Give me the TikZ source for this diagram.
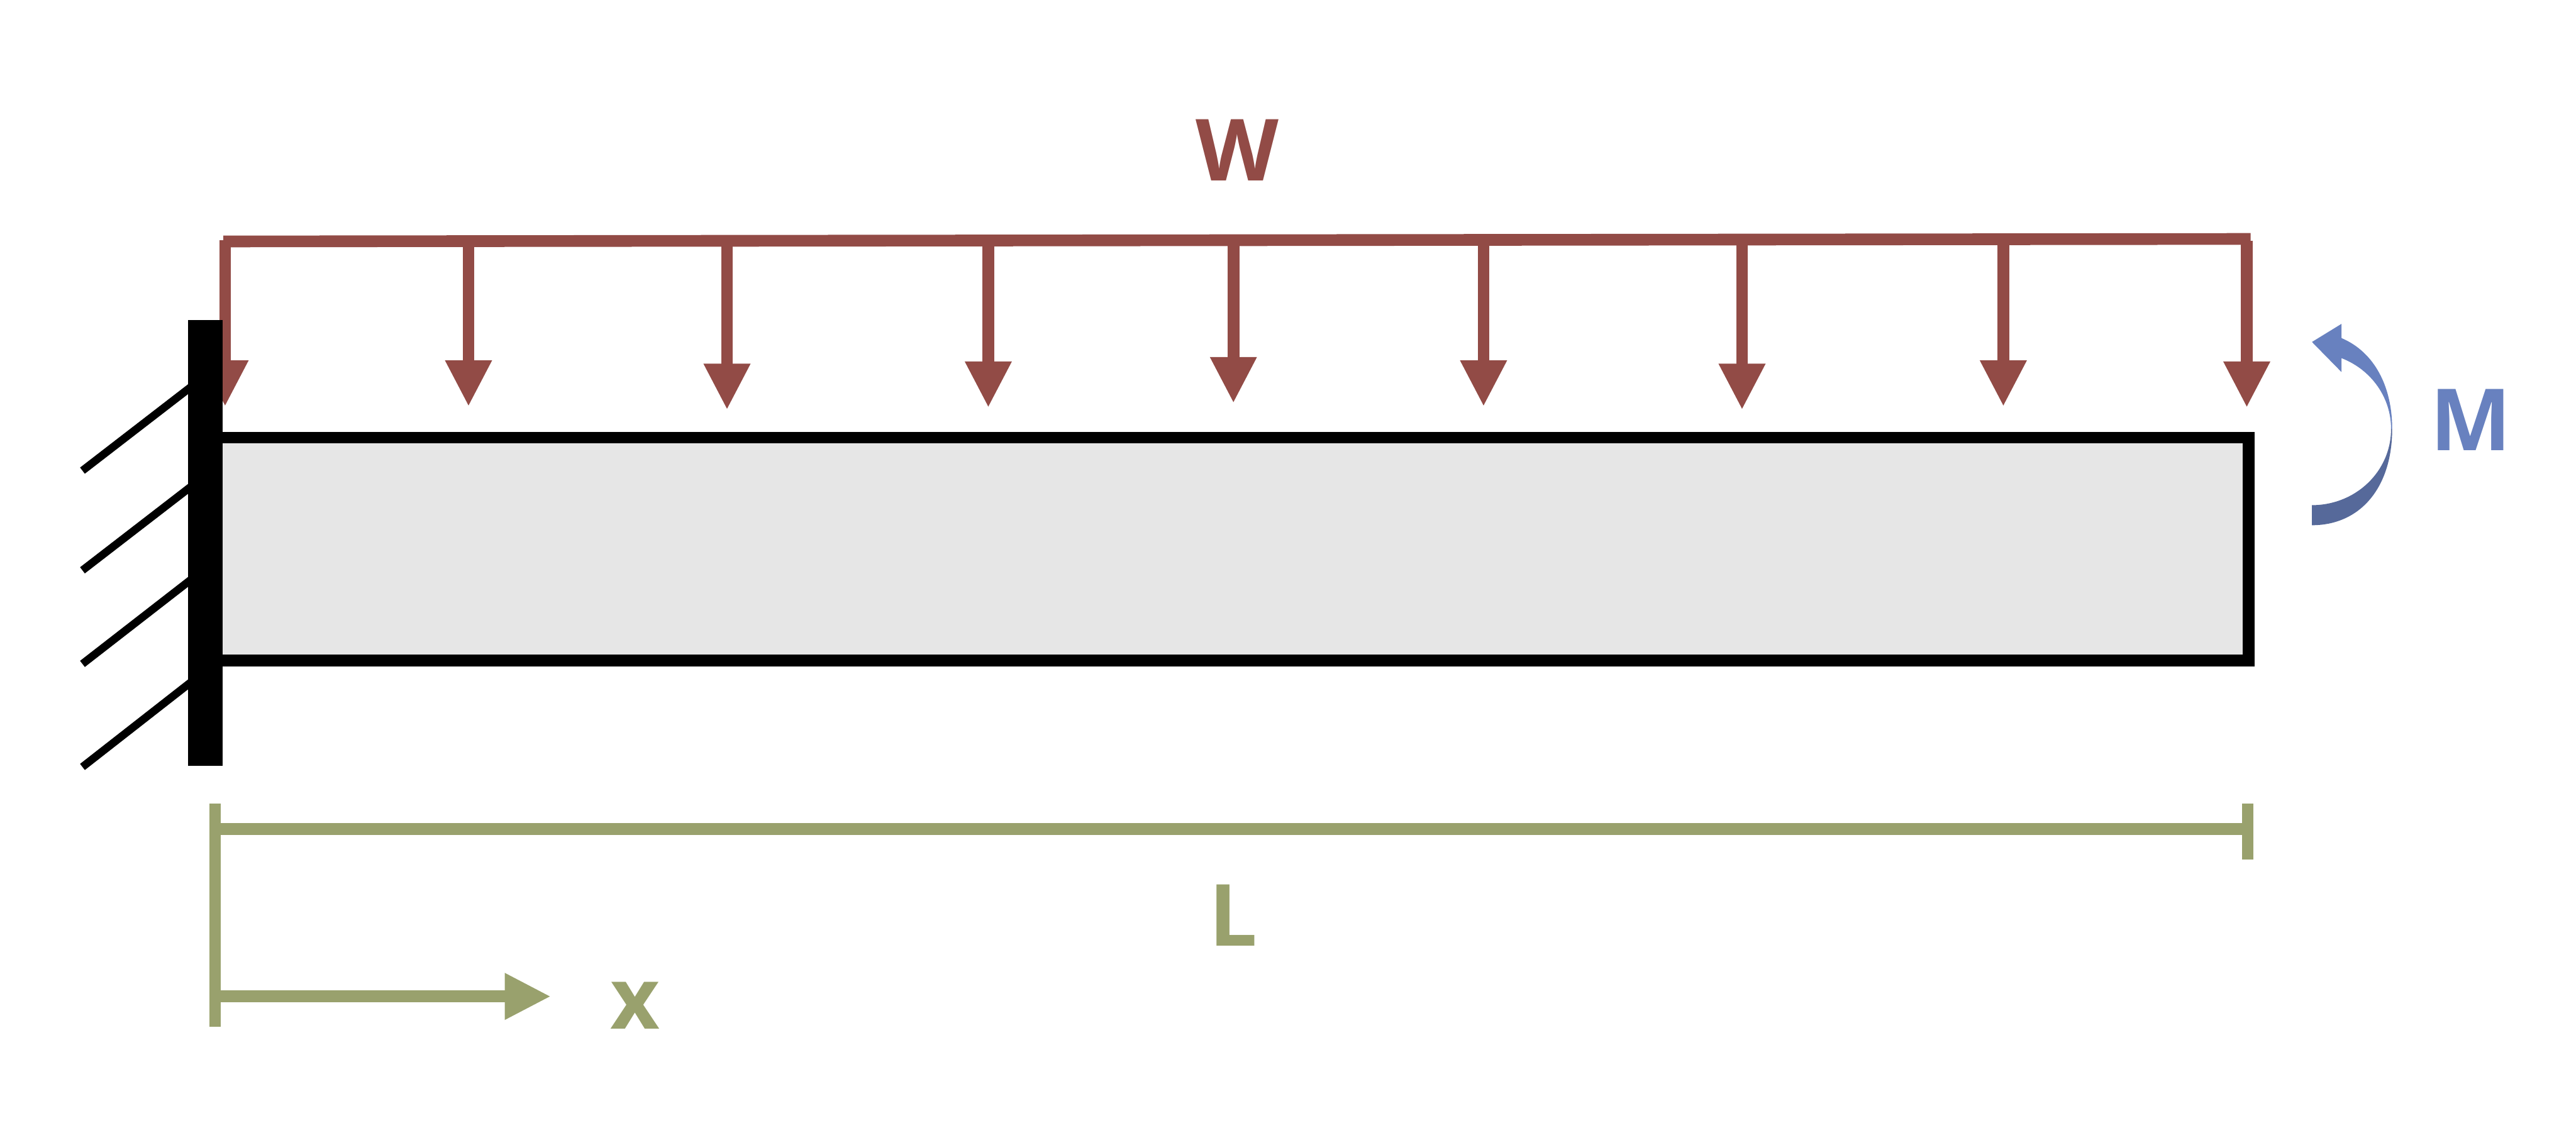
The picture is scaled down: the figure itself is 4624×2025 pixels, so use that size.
\documentclass[tikz,border=0pt]{standalone}
\usepackage{fontspec}
\setmainfont{Open Sans}
\usetikzlibrary{arrows.meta}
\definecolor{loadred}{HTML}{924B46}
\definecolor{momblue}{HTML}{6881BF}
\definecolor{momdark}{HTML}{56699A}
\definecolor{dimolive}{HTML}{99A16D}
\definecolor{beamgrey}{HTML}{E6E6E6}
\tikzset{
  loadline/.style={draw=loadred,line width=0.21cm},
  loadarrow/.style={loadline,-{Triangle[length=0.83cm,width=0.78cm]}},
  hatchline/.style={draw=black,line width=0.14cm},
  dimline/.style={draw=dimolive,line width=0.21cm},
  dimarrow/.style={dimline,-{Triangle[length=0.83cm,width=0.78cm]}},
  lbl/.style={inner sep=0pt,outer sep=0pt,font=\fontsize{43.8}{50}\selectfont\bfseries},
}
\begin{document}
\begin{tikzpicture}[x=0.01cm,y=-0.01cm]
\useasboundingbox (0,0) rectangle (4624,2025);
% load
\coordinate (ll) at (401,433.5);
\coordinate (lr) at (4040,429);
\foreach \n/\x/\yy/\ty in {a/404/431/730,b/841/432/730,c/1305/432/736,d/1774/431/732,e/2214/431/724,f/2663/430/730,g/3127/430/736,h/3596/429/730,i/4033/432/732}{
  \coordinate (s\n) at (\x,\yy);
  \coordinate (t\n) at (\x,\ty);
  \draw[loadarrow] (s\n) -- (t\n);
}
\draw[loadline] (ll) -- (lr);
% hatch
\foreach \n/\a/\b in {1/845/697,2/1024/876,3/1192/1043,4/1377/1227}{
  \coordinate (ha\n) at (148,\a);
  \coordinate (hb\n) at (345,\b-4);
  \draw[hatchline] (ha\n) -- (hb\n);
}
% beam
\node[draw=black,fill=beamgrey,line width=0.21cm,inner sep=0pt,minimum width=36.45cm,minimum height=3.995cm] (beam) at (2212.5,985.75) {};
% wall
\node[fill=black,inner sep=0pt,minimum width=0.63cm,minimum height=8cm] (wall) at (368.5,975) {};
% dimension
\coordinate (dl) at (386,1488.5);
\coordinate (dr) at (4034.5,1488.5);
\coordinate (bt) at (386,1443);
\coordinate (bb) at (386,1843);
\coordinate (rt) at (4034.5,1443);
\coordinate (rb) at (4034.5,1543);
\coordinate (xs) at (386,1789);
\coordinate (xe) at (989,1789);
\draw[dimline] (dl) -- (dr);
\draw[dimline] (bt) -- (bb);
\draw[dimline] (rt) -- (rb);
\draw[dimarrow] (xs) -- (xe);
% moment
\fill[momdark] (4294,770) .. controls (4294,875) and (4237,943) .. (4150,943) -- (4150,907) .. controls (4228,907) and (4292,847) .. (4292,770) -- cycle;
\fill[momblue] (4150,614) -- (4203,581.5) -- (4203,607) .. controls (4262,632) and (4294,694) .. (4294,770) -- (4292,770) .. controls (4292,714) and (4257,664) .. (4203,643) -- (4203,668) -- cycle;
% labels
\node[lbl,text=loadred,anchor=base] (w) at (2221,325) {W};
\node[lbl,text=momblue,anchor=base] (m) at (4435,809) {M};
\node[lbl,text=dimolive,anchor=base west] (l) at (2170,1698) {L};
\node[lbl,text=dimolive,anchor=base] (x) at (1140,1848) {x};
\end{tikzpicture}
\end{document}
